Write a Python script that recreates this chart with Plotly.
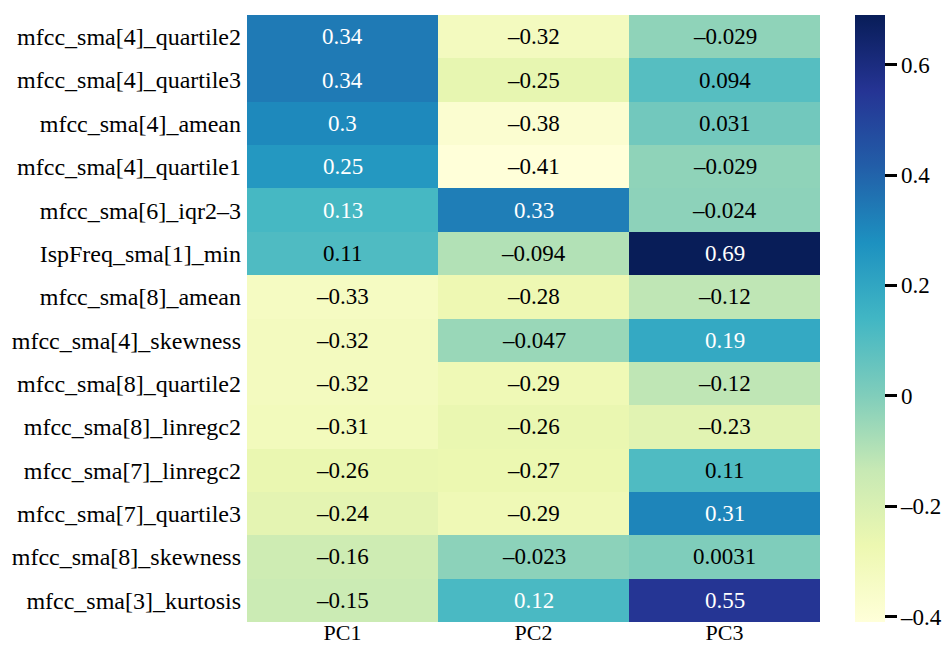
import plotly.graph_objects as go
import plotly.express as px

features = [
    "mfcc_sma[4]_quartile2",
    "mfcc_sma[4]_quartile3",
    "mfcc_sma[4]_amean",
    "mfcc_sma[4]_quartile1",
    "mfcc_sma[6]_iqr2–3",
    "IspFreq_sma[1]_min",
    "mfcc_sma[8]_amean",
    "mfcc_sma[4]_skewness",
    "mfcc_sma[8]_quartile2",
    "mfcc_sma[8]_linregc2",
    "mfcc_sma[7]_linregc2",
    "mfcc_sma[7]_quartile3",
    "mfcc_sma[8]_skewness",
    "mfcc_sma[3]_kurtosis",
]
components = ["PC1", "PC2", "PC3"]
pc1 = [0.34, 0.34, 0.3, 0.25, 0.13, 0.11, -0.33, -0.32, -0.32, -0.31, -0.26, -0.24, -0.16, -0.15]
pc2 = [-0.32, -0.25, -0.38, -0.41, 0.33, -0.094, -0.28, -0.047, -0.29, -0.26, -0.27, -0.29, -0.023, 0.12]
pc3 = [-0.029, 0.094, 0.031, -0.029, -0.024, 0.69, -0.12, 0.19, -0.12, -0.23, 0.11, 0.31, 0.0031, 0.55]
cbar_ticks = [-0.4, -0.2, 0, 0.2, 0.4, 0.6]
cbar_labels = ["–0.4", "–0.2", "0", "0.2", "0.4", "0.6"]

series = [pc1, pc2, pc3]
z = [[series[j][i] for j in range(3)] for i in range(len(features))]

def fmt(v):
    return "{:.2g}".format(v).replace("-", "–")

FONT = "Liberation Serif"

fig = go.Figure()
fig.add_trace(go.Heatmap(
    z=z, x=components, y=features,
    colorscale=px.colors.sequential.YlGnBu,
    zmin=min(min(s) for s in series), zmax=max(max(s) for s in series),
    hoverinfo="skip",
    colorbar=dict(
        x=1.061, xanchor="left", y=0.5, yanchor="middle", len=1.0, lenmode="fraction",
        thickness=30, outlinewidth=0, xpad=0, ypad=0,
        tickvals=cbar_ticks, ticktext=cbar_labels,
        ticks="outside", ticklen=12, tickwidth=3, tickcolor="black",
        tickfont=dict(family=FONT, size=23, color="black"),
    ),
))

for i, f in enumerate(features):
    for j, c in enumerate(components):
        v = series[j][i]
        fig.add_annotation(
            x=c, y=f, text=fmt(v), showarrow=False,
            font=dict(family=FONT, size=23, color="white" if v > 0.115 else "black"),
        )

# page has an 8px body margin; size the figure so the plot lands where the reference has it
fig.update_layout(
    width=942, height=639,
    margin=dict(l=239, r=130, t=7, b=25, autoexpand=False),
    paper_bgcolor="white", plot_bgcolor="white",
    font=dict(family=FONT, size=23, color="black"),
)
fig.update_xaxes(showgrid=False, zeroline=False, ticks="", automargin=False,
                 tickfont=dict(family=FONT, size=22, color="black"), ticklabelstandoff=-5)
fig.update_yaxes(showgrid=False, zeroline=False, ticks="", autorange="reversed", automargin=False,
                 tickfont=dict(family=FONT, size=24, color="black"), ticklabelstandoff=5)

fig.write_html("out.html")
